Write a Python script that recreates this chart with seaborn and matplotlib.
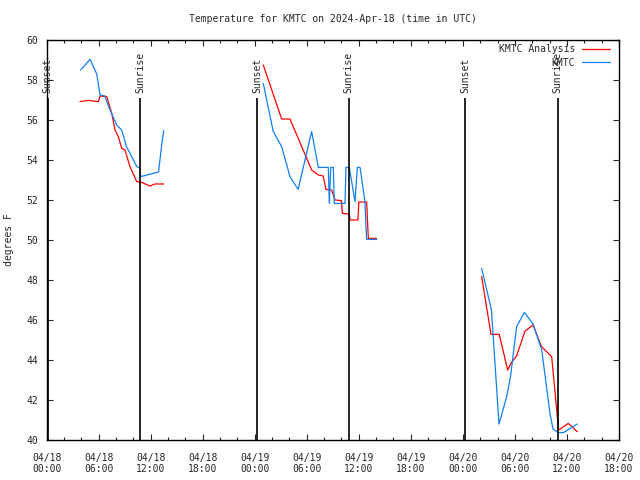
import matplotlib
matplotlib.use("Agg")
import matplotlib.pyplot as plt
import matplotlib.dates as mdates
import pandas as pd
import seaborn as sns

START = pd.Timestamp("2024-04-18 00:00")

# hours after 04/18 00:00 UTC and temperatures (deg F), one list per stretch of data
ana_h1 = [3.84, 4.8, 5.95, 6.15, 6.92, 7.5, 7.88, 8.26, 8.65, 9.03, 9.6, 10.38, 10.96, 11.9, 12.5, 13.5]
ana_t1 = [56.92, 56.98, 56.92, 57.2, 57.17, 56.33, 55.5, 55.17, 54.58, 54.5, 53.67, 52.92, 52.88, 52.7, 52.8, 52.8]
ana_h2 = [24.98, 27.1, 28.06, 30.56, 31.33, 31.9, 32.2, 32.87, 33.25, 34.0, 34.1, 34.9, 35.0, 35.9, 36.0, 36.9, 37.1, 38.06]
ana_t2 = [58.75, 56.05, 56.05, 53.5, 53.25, 53.2, 52.53, 52.5, 52.0, 51.97, 51.33, 51.3, 51.0, 51.0, 51.9, 51.9, 50.08, 50.08]
ana_h3 = [50.17, 51.25, 52.2, 53.17, 53.6, 54.2, 55.17, 56.1, 57.07, 58.25, 58.9, 59.05, 60.16, 61.2]
ana_t3 = [48.17, 45.28, 45.28, 43.5, 43.87, 44.2, 45.45, 45.75, 44.67, 44.17, 41.17, 40.5, 40.83, 40.42]

obs_h1 = [3.92, 5.0, 5.77, 6.15, 6.7, 7.3, 8.07, 8.65, 9.2, 10.0, 10.4, 10.76, 10.84, 12.9, 13.26, 13.5]
obs_t1 = [58.5, 59.03, 58.3, 57.25, 57.2, 56.5, 55.75, 55.5, 54.67, 54.0, 53.67, 53.6, 53.17, 53.4, 54.75, 55.47]
obs_h2 = [24.98, 26.13, 27.1, 28.06, 29.0, 30.56, 31.33, 32.48, 32.6, 32.76, 33.06, 33.17, 34.41, 34.52,
          34.9, 35.56, 35.83, 36.14, 36.71, 36.9, 38.06]
obs_t2 = [57.83, 55.42, 54.67, 53.17, 52.53, 55.42, 53.63, 53.63, 51.83, 53.63, 53.63, 51.83, 51.83, 53.63,
          53.63, 51.92, 53.63, 53.63, 51.92, 50.03, 50.03]
obs_h3 = [50.17, 51.3, 52.17, 53.06, 53.5, 54.2, 55.1, 56.1, 57.1, 58.05, 58.4, 59.0, 59.6, 61.2]
obs_t3 = [48.58, 46.5, 40.8, 42.17, 43.17, 45.67, 46.38, 45.8, 44.5, 41.33, 40.55, 40.37, 40.37, 40.8]

sun_h = [0.09, 10.76, 24.3, 34.85, 48.27, 58.95]
sun_lbl = ["Sunset", "Sunrise", "Sunset", "Sunrise", "Sunset", "Sunrise"]

rows = []
for name, parts in [("KMTC Analysis", [(ana_h1, ana_t1), (ana_h2, ana_t2), (ana_h3, ana_t3)]),
                    ("KMTC", [(obs_h1, obs_t1), (obs_h2, obs_t2), (obs_h3, obs_t3)])]:
    for k, (hh, tt) in enumerate(parts):
        for h, t in zip(hh, tt):
            rows.append({"time": START + pd.Timedelta(hours=h), "temp": t, "series": name, "seg": k})
df = pd.DataFrame(rows)

sns.set_style("ticks")
plt.rcParams["font.family"] = ["DejaVu Sans Mono"]
plt.rcParams["font.size"] = 7

fig = plt.figure(figsize=(6.4, 4.8), dpi=100)
ax = fig.add_axes([0.073, 0.0833, 0.894, 0.8334])

sns.lineplot(data=df, x="time", y="temp", hue="series", units="seg", estimator=None, sort=False,
             palette={"KMTC Analysis": "#ff0000", "KMTC": "#1080f0"},
             hue_order=["KMTC Analysis", "KMTC"], lw=0.9, ax=ax)

for h, lbl in zip(sun_h, sun_lbl):
    t = START + pd.Timedelta(hours=h)
    ax.vlines(t, 40, 57.1, color="black", lw=1.2)
    ax.text(t, 57.35, lbl, rotation=90, ha="center", va="bottom", fontsize=7)

ax.set_xlim(START, START + pd.Timedelta(hours=66))
ax.set_ylim(40, 60)
ax.set_yticks(range(40, 61, 2))
ax.xaxis.set_major_locator(mdates.HourLocator(byhour=[0, 6, 12, 18]))
ax.xaxis.set_minor_locator(mdates.HourLocator(byhour=range(0, 24, 2)))
ax.xaxis.set_major_formatter(mdates.DateFormatter("%m/%d\n%H:%M"))
ax.tick_params(which="both", direction="in", top=True, right=True, labelsize=7, width=0.8)
ax.tick_params(which="major", length=4)
ax.tick_params(which="minor", length=2.5)
ax.tick_params(axis="x", pad=9)
ax.tick_params(axis="y", pad=6)
for s in ax.spines.values():
    s.set_linewidth(1)
    s.set_color("black")

ax.set_xlabel("")
ax.set_ylabel("degrees F", fontsize=7, labelpad=9)
ax.set_title("Temperature for KMTC on 2024-Apr-18 (time in UTC)", fontsize=7, pad=13)

sns.move_legend(ax, "upper right", frameon=False, markerfirst=False, title=None, fontsize=7,
                handlelength=2.9, handletextpad=0.7, labelspacing=0.4,
                bbox_to_anchor=(1.0, 1.012))

fig.savefig("out.png", dpi=100)
